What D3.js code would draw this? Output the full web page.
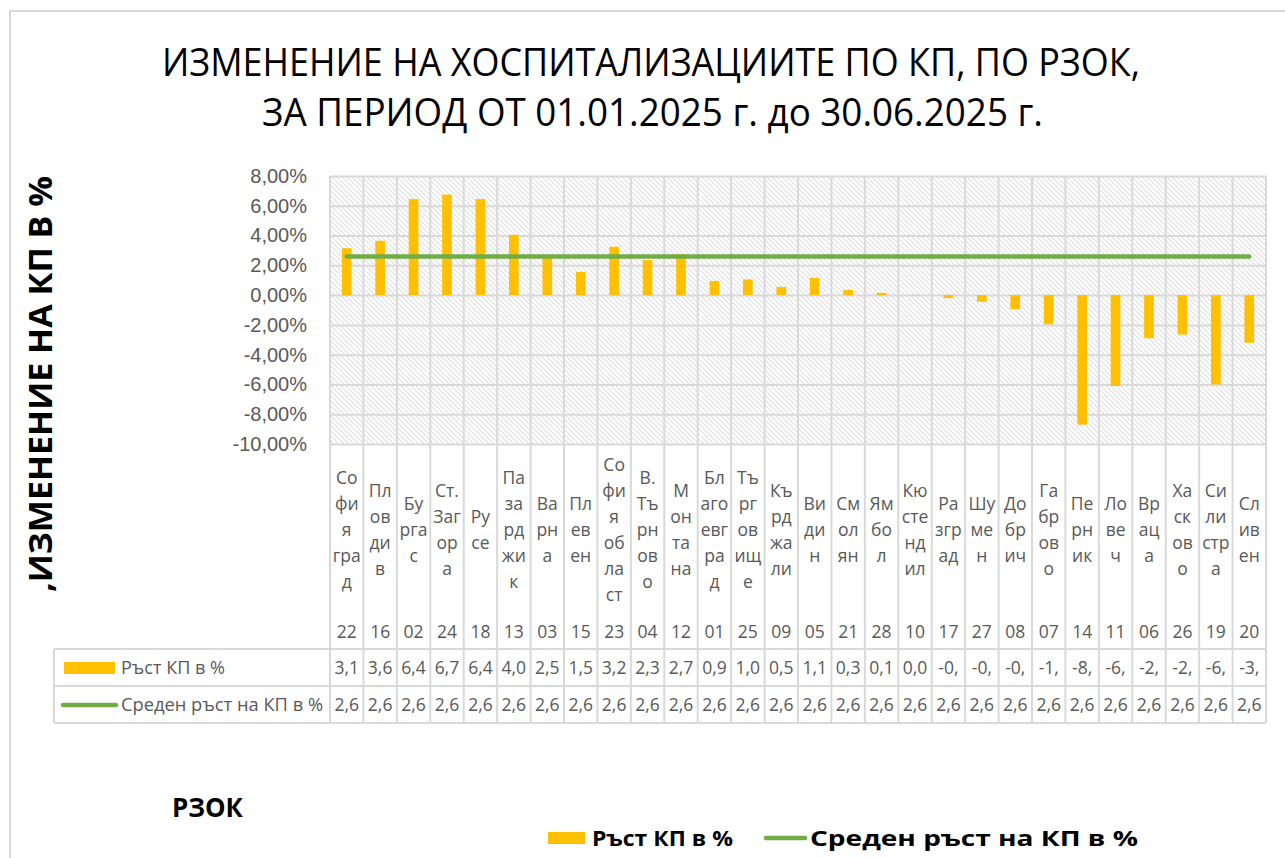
<!DOCTYPE html>
<html>
<head>
  <meta charset="utf-8">
  <script src="https://d3js.org/d3.v7.min.js"></script>
  <title>Изменение на хоспитализациите по КП</title>
  <style>
    body { margin: 0; background: #fff; }
    svg { font-family: "Open Sans", "Noto Sans", sans-serif; }
    .tick line { stroke: #d9d9d9; stroke-width: 2; }
    .tick text { fill: #595959; font-size: 20px; }
    .domain { display: none; }
    .cell { fill: #595959; font-size: 17.5px; }
  </style>
</head>
<body>
  <svg width="1285" height="858"></svg>
  <script>
    // data
    const codes = ['22','16','02','24','18','13','03','15','23','04','12','01','25','09',
                   '05','21','28','10','17','27','08','07','14','11','06','26','19','20'];
    // category names as wrapped in the narrow cells
    const nameLines = [
      ['Со','фи','я','гра','д'], ['Пл','ов','ди','в'], ['Бу','рга','с'], ['Ст.','Заг','ор','а'],
      ['Ру','се'], ['Па','за','рд','жи','к'], ['Ва','рн','а'], ['Пл','ев','ен'],
      ['Со','фи','я','об','ла','ст'], ['В.','Тъ','рн','ов','о'], ['М','он','та','на'],
      ['Бл','аго','евг','ра','д'], ['Тъ','рг','ов','ищ','е'], ['Къ','рд','жа','ли'],
      ['Ви','ди','н'], ['См','ол','ян'], ['Ям','бо','л'], ['Кю','сте','нд','ил'],
      ['Ра','згр','ад'], ['Шу','ме','н'], ['До','бр','ич'], ['Га','бр','ов','о'],
      ['Пе','рн','ик'], ['Ло','ве','ч'], ['Вр','ац','а'], ['Ха','ск','ов','о'],
      ['Си','ли','стр','а'], ['Сл','ив','ен']
    ];
    const growth = [3.15, 3.65, 6.45, 6.75, 6.45, 4.05, 2.55, 1.55, 3.25, 2.35, 2.75, 0.95, 1.05, 0.55,
                    1.15, 0.35, 0.15, 0.02, -0.2, -0.45, -0.95, -1.96, -8.7, -6.1, -2.9, -2.65, -6.0, -3.2];
    const average = [2.6, 2.6, 2.6, 2.6, 2.6, 2.6, 2.6, 2.6, 2.6, 2.6, 2.6, 2.6, 2.6, 2.6,
                     2.6, 2.6, 2.6, 2.6, 2.6, 2.6, 2.6, 2.6, 2.6, 2.6, 2.6, 2.6, 2.6, 2.6];
    const yTicks = [-10, -8, -6, -4, -2, 0, 2, 4, 6, 8];
    const seriesNames = ['Ръст КП в %', 'Среден ръст на КП в %'];
    const titleLines = ['ИЗМЕНЕНИЕ НА ХОСПИТАЛИЗАЦИИТЕ ПО КП, ПО РЗОК,',
                        'ЗА ПЕРИОД ОТ 01.01.2025 г. до 30.06.2025 г.'];
    const yLabel = ',ИЗМЕНЕНИЕ НА КП В %';
    const xLabel = 'РЗОК';

    const barColor = '#ffc000';
    const lineColor = '#70ad47';
    const gridColor = '#d9d9d9';

    const svg = d3.select('svg');
    const plotLeft = 330, plotRight = 1266, plotTop = 176, plotBottom = 444;
    const tableTop = 649, rowH = 37;

    // chart area border
    svg.append('rect')
      .attr('x', 10).attr('y', 11)
      .attr('width', 1300).attr('height', 900)
      .attr('fill', 'none').attr('stroke', gridColor).attr('stroke-width', 2);

    // hatch pattern for plot area
    const pat = svg.append('defs').append('pattern')
      .attr('id', 'hatch').attr('patternUnits', 'userSpaceOnUse')
      .attr('width', 5).attr('height', 5);
    pat.append('rect').attr('width', 5).attr('height', 5).attr('fill', '#fff');
    pat.append('path')
      .attr('d', 'M0,0L5,5M-1,4L1,6M4,-1L6,1')
      .attr('stroke', '#e0e0e0').attr('stroke-width', 1.2);

    const x = d3.scaleBand().domain(codes).range([plotLeft, plotRight]).padding(0);
    const y = d3.scaleLinear().domain([-10, 8]).range([plotBottom, plotTop]);
    const bw = x.bandwidth();

    svg.append('rect')
      .attr('x', plotLeft).attr('y', plotTop)
      .attr('width', plotRight - plotLeft).attr('height', plotBottom - plotTop)
      .attr('fill', 'url(#hatch)');

    // number format with comma decimals and plain hyphen minus
    const comma = (spec, v) => d3.format(spec)(v).replace('.', ',').replace('\u2212', '-');

    // y axis with horizontal grid
    svg.append('g')
      .attr('transform', `translate(${plotLeft},0)`)
      .call(d3.axisLeft(y).tickValues(yTicks).tickSize(-(plotRight - plotLeft))
        .tickPadding(23).tickFormat(d => comma('.2f', d) + '%'));

    // vertical grid / table column lines
    const edges = codes.map(c => x(c)).concat([plotRight]);
    svg.append('g').selectAll('line').data(edges).enter().append('line')
      .attr('x1', d => d).attr('x2', d => d)
      .attr('y1', plotTop).attr('y2', tableTop + 2 * rowH)
      .attr('stroke', gridColor).attr('stroke-width', 2);

    // table row lines
    svg.append('g').selectAll('line').data([0, 1, 2]).enter().append('line')
      .attr('x1', 54).attr('x2', plotRight)
      .attr('y1', d => tableTop + d * rowH).attr('y2', d => tableTop + d * rowH)
      .attr('stroke', gridColor).attr('stroke-width', 2);
    svg.append('line')
      .attr('x1', 54).attr('x2', 54)
      .attr('y1', tableTop).attr('y2', tableTop + 2 * rowH)
      .attr('stroke', gridColor).attr('stroke-width', 2);

    // bars
    const barW = bw * 0.29;
    svg.append('g').selectAll('rect').data(growth).enter().append('rect')
      .attr('x', (d, i) => x(codes[i]) + (bw - barW) / 2)
      .attr('y', d => y(Math.max(0, d)))
      .attr('width', barW)
      .attr('height', d => Math.abs(y(d) - y(0)))
      .attr('fill', barColor);

    // average line
    const line = d3.line()
      .x((d, i) => x(codes[i]) + bw / 2)
      .y(d => y(d));
    svg.append('path').datum(average)
      .attr('d', line)
      .attr('fill', 'none').attr('stroke', lineColor)
      .attr('stroke-width', 4.5).attr('stroke-linecap', 'round');

    // category labels
    const lineH = 26, labelMid = 530;
    const catG = svg.append('g').selectAll('g').data(nameLines).enter().append('g')
      .attr('transform', (d, i) => `translate(${x(codes[i]) + bw / 2},0)`);
    catG.each(function (lines) {
      const g = d3.select(this);
      const y0 = labelMid - (lines.length - 1) * lineH / 2;
      lines.forEach((t, k) => {
        g.append('text').attr('class', 'cell')
          .attr('y', y0 + k * lineH).attr('dy', '0.35em')
          .attr('text-anchor', 'middle').text(t);
      });
    });
    catG.append('text').attr('class', 'cell')
      .attr('y', 632).attr('dy', '0.35em')
      .attr('text-anchor', 'middle').text((d, i) => codes[i]);

    // table values (clipped to 3 characters like the narrow cells)
    const cellText = v => comma('.2f', v).slice(0, 3);
    [growth, average].forEach((vals, r) => {
      svg.append('g').selectAll('text').data(vals).enter().append('text')
        .attr('class', 'cell')
        .attr('x', (d, i) => x(codes[i]) + bw / 2)
        .attr('y', tableTop + rowH * r + rowH / 2).attr('dy', '0.35em')
        .attr('text-anchor', 'middle')
        .text(cellText);
    });

    // legend keys inside table
    svg.append('rect')
      .attr('x', 64).attr('y', 662).attr('width', 51).attr('height', 12)
      .attr('fill', barColor);
    svg.append('line')
      .attr('x1', 63).attr('x2', 116).attr('y1', 705).attr('y2', 705)
      .attr('stroke', lineColor).attr('stroke-width', 4.5).attr('stroke-linecap', 'round');
    svg.append('text').attr('class', 'cell')
      .attr('x', 121).attr('y', tableTop + rowH / 2).attr('dy', '0.35em')
      .attr('textLength', 104).attr('lengthAdjust', 'spacingAndGlyphs')
      .text(seriesNames[0]);
    svg.append('text').attr('class', 'cell')
      .attr('x', 121).attr('y', tableTop + rowH * 1.5).attr('dy', '0.35em')
      .attr('textLength', 202).attr('lengthAdjust', 'spacingAndGlyphs')
      .text(seriesNames[1]);

    // title
    svg.append('text')
      .attr('x', 162).attr('y', 76)
      .attr('font-size', 38).attr('fill', '#000')
      .attr('textLength', 978).attr('lengthAdjust', 'spacingAndGlyphs')
      .text(titleLines[0]);
    svg.append('text')
      .attr('x', 262).attr('y', 126)
      .attr('font-size', 38).attr('fill', '#000')
      .attr('textLength', 781).attr('lengthAdjust', 'spacingAndGlyphs')
      .text(titleLines[1]);

    // axis titles
    svg.append('text')
      .attr('transform', 'translate(52,592) rotate(-90)')
      .attr('font-size', 33).attr('font-weight', 'bold').attr('fill', '#000')
      .attr('textLength', 416).attr('lengthAdjust', 'spacingAndGlyphs')
      .text(yLabel);
    svg.append('text')
      .attr('x', 172).attr('y', 817)
      .attr('font-size', 27).attr('font-weight', 'bold').attr('fill', '#000')
      .attr('textLength', 71).attr('lengthAdjust', 'spacingAndGlyphs')
      .text(xLabel);

    // bottom legend
    svg.append('rect')
      .attr('x', 548).attr('y', 832).attr('width', 37).attr('height', 12)
      .attr('fill', barColor);
    svg.append('text')
      .attr('x', 592).attr('y', 838).attr('dy', '0.35em')
      .attr('font-size', 22).attr('font-weight', 'bold').attr('fill', '#000')
      .attr('textLength', 141).attr('lengthAdjust', 'spacingAndGlyphs')
      .text(seriesNames[0]);
    svg.append('line')
      .attr('x1', 766).attr('x2', 805).attr('y1', 838).attr('y2', 838)
      .attr('stroke', lineColor).attr('stroke-width', 4.5).attr('stroke-linecap', 'round');
    svg.append('text')
      .attr('x', 810).attr('y', 838).attr('dy', '0.35em')
      .attr('font-size', 22).attr('font-weight', 'bold').attr('fill', '#000')
      .attr('textLength', 328).attr('lengthAdjust', 'spacingAndGlyphs')
      .text(seriesNames[1]);
  </script>
</body>
</html>
